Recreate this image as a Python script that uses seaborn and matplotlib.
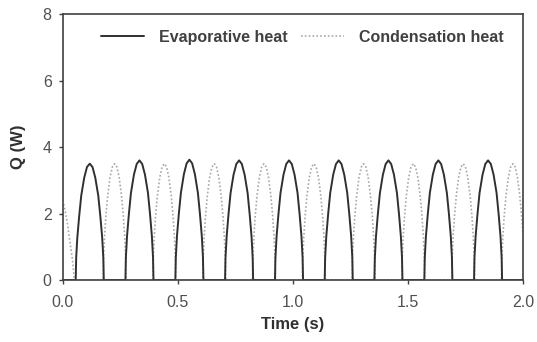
import matplotlib
matplotlib.use("Agg")
import matplotlib.pyplot as plt
import seaborn as sns
import pandas as pd

# Evaporative heat (solid)
evap_t = [0.000, 0.056,
          0.056, 0.058, 0.063, 0.071, 0.080, 0.093, 0.105, 0.117, 0.129, 0.141, 0.154, 0.163, 0.171, 0.176, 0.178,
          0.272, 0.274, 0.279, 0.287, 0.296, 0.309, 0.321, 0.333, 0.345, 0.357, 0.370, 0.379, 0.387, 0.392, 0.394,
          0.489, 0.491, 0.496, 0.504, 0.513, 0.526, 0.538, 0.550, 0.562, 0.574, 0.587, 0.596, 0.604, 0.609, 0.611,
          0.705, 0.707, 0.712, 0.720, 0.729, 0.742, 0.754, 0.766, 0.778, 0.790, 0.803, 0.812, 0.820, 0.825, 0.827,
          0.922, 0.924, 0.929, 0.937, 0.946, 0.959, 0.971, 0.983, 0.995, 1.007, 1.020, 1.029, 1.037, 1.042, 1.044,
          1.138, 1.140, 1.145, 1.153, 1.162, 1.175, 1.187, 1.199, 1.211, 1.223, 1.236, 1.245, 1.253, 1.258, 1.260,
          1.354, 1.356, 1.361, 1.369, 1.378, 1.391, 1.403, 1.415, 1.427, 1.439, 1.452, 1.461, 1.469, 1.474, 1.476,
          1.571, 1.573, 1.578, 1.586, 1.595, 1.608, 1.620, 1.632, 1.644, 1.656, 1.669, 1.678, 1.686, 1.691, 1.693,
          1.787, 1.789, 1.794, 1.802, 1.811, 1.824, 1.836, 1.848, 1.860, 1.872, 1.885, 1.894, 1.902, 1.907, 1.909,
          2.000]
evap_q = [0.00, 0.00,
          0.00, 0.67, 1.28, 1.92, 2.54, 3.08, 3.40, 3.50, 3.40, 3.08, 2.54, 1.92, 1.28, 0.67, 0.00,
          0.00, 0.68, 1.32, 1.98, 2.62, 3.17, 3.49, 3.60, 3.49, 3.17, 2.62, 1.98, 1.32, 0.68, 0.00,
          0.00, 0.68, 1.32, 1.98, 2.62, 3.18, 3.51, 3.62, 3.51, 3.18, 2.62, 1.98, 1.32, 0.68, 0.00,
          0.00, 0.68, 1.32, 1.98, 2.62, 3.17, 3.49, 3.60, 3.49, 3.17, 2.62, 1.98, 1.32, 0.68, 0.00,
          0.00, 0.68, 1.32, 1.98, 2.62, 3.17, 3.49, 3.60, 3.49, 3.17, 2.62, 1.98, 1.32, 0.68, 0.00,
          0.00, 0.68, 1.32, 1.98, 2.62, 3.17, 3.49, 3.60, 3.49, 3.17, 2.62, 1.98, 1.32, 0.68, 0.00,
          0.00, 0.68, 1.32, 1.98, 2.62, 3.17, 3.49, 3.60, 3.49, 3.17, 2.62, 1.98, 1.32, 0.68, 0.00,
          0.00, 0.68, 1.32, 1.98, 2.62, 3.17, 3.49, 3.60, 3.49, 3.17, 2.62, 1.98, 1.32, 0.68, 0.00,
          0.00, 0.68, 1.32, 1.98, 2.62, 3.17, 3.49, 3.60, 3.49, 3.17, 2.62, 1.98, 1.32, 0.68, 0.00,
          0.00]

# Condensation heat (dotted)
cond_t = [0.000, 0.010, 0.020, 0.032, 0.042, 0.050, 0.175,
          0.175, 0.177, 0.181, 0.187, 0.195, 0.205, 0.215, 0.225, 0.235, 0.245, 0.255, 0.263, 0.269, 0.273, 0.275,
          0.391, 0.393, 0.397, 0.403, 0.411, 0.421, 0.431, 0.441, 0.451, 0.461, 0.471, 0.479, 0.485, 0.489, 0.491,
          0.608, 0.610, 0.614, 0.620, 0.628, 0.638, 0.648, 0.658, 0.668, 0.678, 0.688, 0.696, 0.702, 0.706, 0.708,
          0.824, 0.826, 0.830, 0.836, 0.844, 0.854, 0.864, 0.874, 0.884, 0.894, 0.904, 0.912, 0.918, 0.922, 0.924,
          1.041, 1.043, 1.047, 1.053, 1.061, 1.071, 1.081, 1.091, 1.101, 1.111, 1.121, 1.129, 1.135, 1.139, 1.141,
          1.257, 1.259, 1.263, 1.269, 1.277, 1.287, 1.297, 1.307, 1.317, 1.327, 1.337, 1.345, 1.351, 1.355, 1.357,
          1.473, 1.475, 1.479, 1.485, 1.493, 1.503, 1.513, 1.523, 1.533, 1.543, 1.553, 1.561, 1.567, 1.571, 1.573,
          1.690, 1.692, 1.696, 1.702, 1.710, 1.720, 1.730, 1.740, 1.750, 1.760, 1.770, 1.778, 1.784, 1.788, 1.790,
          1.906, 1.908, 1.912, 1.918, 1.926, 1.936, 1.946, 1.956, 1.966, 1.976, 1.986, 1.994, 2.000]
cond_q = [2.40, 2.10, 1.70, 1.10, 0.60, 0.00, 0.00,
          0.00, 0.67, 1.28, 1.92, 2.54, 3.08, 3.40, 3.50, 3.40, 3.08, 2.54, 1.92, 1.28, 0.67, 0.00,
          0.00, 0.67, 1.28, 1.92, 2.54, 3.08, 3.40, 3.50, 3.40, 3.08, 2.54, 1.92, 1.28, 0.67, 0.00,
          0.00, 0.67, 1.28, 1.92, 2.54, 3.08, 3.40, 3.50, 3.40, 3.08, 2.54, 1.92, 1.28, 0.67, 0.00,
          0.00, 0.67, 1.28, 1.92, 2.54, 3.08, 3.40, 3.50, 3.40, 3.08, 2.54, 1.92, 1.28, 0.67, 0.00,
          0.00, 0.67, 1.28, 1.92, 2.54, 3.08, 3.40, 3.50, 3.40, 3.08, 2.54, 1.92, 1.28, 0.67, 0.00,
          0.00, 0.67, 1.28, 1.92, 2.54, 3.08, 3.40, 3.50, 3.40, 3.08, 2.54, 1.92, 1.28, 0.67, 0.00,
          0.00, 0.67, 1.28, 1.92, 2.54, 3.08, 3.40, 3.50, 3.40, 3.08, 2.54, 1.92, 1.28, 0.67, 0.00,
          0.00, 0.67, 1.28, 1.92, 2.54, 3.08, 3.40, 3.50, 3.40, 3.08, 2.54, 1.92, 1.28, 0.67, 0.00,
          0.00, 0.67, 1.28, 1.92, 2.54, 3.08, 3.40, 3.50, 3.40, 3.08, 2.54, 1.92, 1.40]

x_ticks = [0.0, 0.5, 1.0, 1.5, 2.0]
y_ticks = [0, 2, 4, 6, 8]
label_evap = "Evaporative heat"
label_cond = "Condensation heat"

sns.set_theme(style="ticks")
plt.rcParams['font.family'] = ['Liberation Sans', 'DejaVu Sans']

fig = plt.figure(figsize=(5.37, 3.42), dpi=100)
ax = fig.add_axes([0.117, 0.181, 0.857, 0.778])

df_e = pd.DataFrame({"t": evap_t, "q": evap_q})
df_c = pd.DataFrame({"t": cond_t, "q": cond_q})

sns.lineplot(data=df_c, x="t", y="q", ax=ax, sort=False, estimator=None,
             color="#a8a8a8", linestyle=(0, (1, 1.3)), linewidth=1.2, label=label_cond)
sns.lineplot(data=df_e, x="t", y="q", ax=ax, sort=False, estimator=None,
             color="#303030", linestyle="-", linewidth=1.4, label=label_evap)

ax.set_xlim(0, 2.0)
ax.set_ylim(0, 8)
ax.set_xticks(x_ticks)
ax.set_xticklabels([f"{v:.1f}" for v in x_ticks])
ax.set_yticks(y_ticks)
ax.set_yticklabels([str(v) for v in y_ticks])

for s in ax.spines.values():
    s.set_visible(True)
    s.set_color("#404040")
    s.set_linewidth(1.2)
ax.tick_params(axis="both", direction="out", length=3, width=1, color="#404040",
               labelsize=11.5, labelcolor="#505050")
ax.tick_params(axis="x", pad=8)
ax.tick_params(axis="y", pad=5)

ax.set_xlabel("Time (s)", fontsize=12, fontweight="bold", color="#303030", labelpad=5)
ax.set_ylabel("Q (W)", fontsize=12, fontweight="bold", color="#303030", labelpad=12)

handles, labels = ax.get_legend_handles_labels()
order = [labels.index(label_evap), labels.index(label_cond)]
leg = ax.legend([handles[i] for i in order], [labels[i] for i in order],
                ncol=2, loc="upper center", bbox_to_anchor=(0.52, 0.995),
                frameon=False, handlelength=2.7, handletextpad=0.95,
                columnspacing=0.8, prop={"size": 11.5, "weight": "bold"})
for txt in leg.get_texts():
    txt.set_color("#404040")

fig.savefig("out.png", dpi=100)
